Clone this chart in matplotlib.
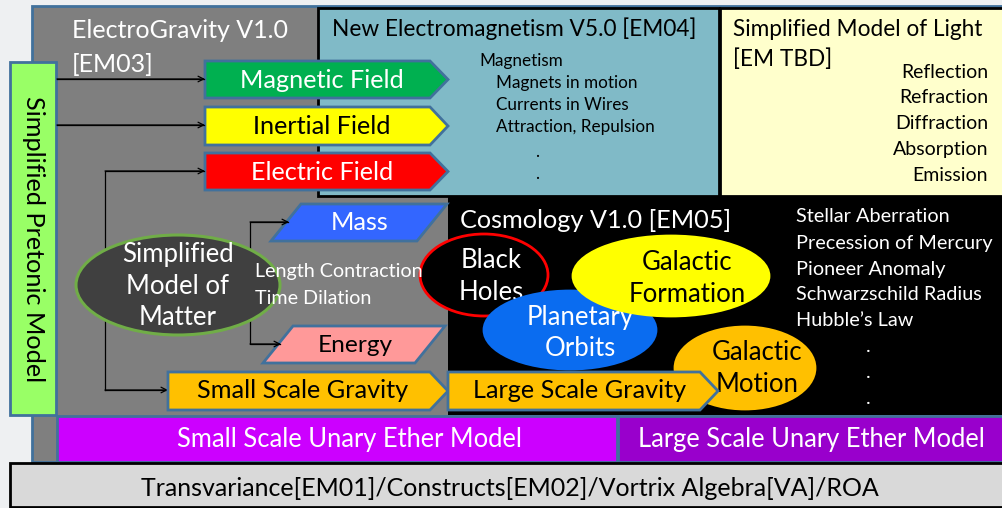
import matplotlib
matplotlib.use("Agg")
import matplotlib.pyplot as plt
from matplotlib.patches import Rectangle, Polygon, Ellipse

plt.rcParams['font.family'] = ['Lato', 'DejaVu Sans']

# --- diagram content ---
field_labels = ["Magnetic Field", "Inertial Field", "Electric Field"]
field_colors = ["#00b050", "#ffff00", "#ff0000"]
field_text_colors = ["white", "black", "white"]

em_items = ["Magnetism", "Magnets in motion", "Currents in Wires", "Attraction, Repulsion", ".", "."]
light_items = ["Reflection", "Refraction", "Diffraction", "Absorption", "Emission"]
cosmo_items = ["Stellar Aberration", "Precession of Mercury", "Pioneer Anomaly",
               "Schwarzschild Radius", "Hubble\u2019s Law", ".", ".", "."]

cosmo_bubbles = ["Black\nHoles", "Planetary\nOrbits", "Galactic\nFormation", "Galactic\nMotion"]
bubble_colors = ["black", "#0a6cf0", "#ffff00", "#ffc000"]
bubble_edges = ["#ff0000", "#0a6cf0", "#ffff00", "#ffc000"]
bubble_text = ["white", "white", "black", "black"]

BORDER = "#41719c"
BIG = 18.2

fig = plt.figure(figsize=(10.03, 5.08), dpi=100)
ax = fig.add_axes([0, 0, 1, 1])
ax.set_xlim(0, 1003)
ax.set_ylim(508, 0)
ax.axis("off")
fig.patch.set_facecolor("#eef0f2")


def rect(x0, y0, x1, y1, fc, ec=BORDER, lw=2, z=1):
    ax.add_patch(Rectangle((x0, y0), x1 - x0, y1 - y0, facecolor=fc, edgecolor=ec, lw=lw, zorder=z))


def pentagon(x0, x1, y0, y1, fc, tip=18, z=3):
    ym = (y0 + y1) / 2
    pts = [(x0, y0), (x1 - tip, y0), (x1, ym), (x1 - tip, y1), (x0, y1)]
    ax.add_patch(Polygon(pts, closed=True, facecolor=fc, edgecolor=BORDER, lw=2, zorder=z))


def parallelogram(xl, xr, y0, y1, fc, skew=30, z=3):
    pts = [(xl + skew, y0), (xr, y0), (xr - skew, y1), (xl, y1)]
    ax.add_patch(Polygon(pts, closed=True, facecolor=fc, edgecolor=BORDER, lw=2, zorder=z))


def arrow(path, z=4):
    xs = [p[0] for p in path]
    ys = [p[1] for p in path]
    ax.plot(xs[:-1] + [xs[-1] - 1], ys, color="black", lw=0.9, zorder=z)
    ax.annotate("", xy=path[-1], xytext=path[-2],
                arrowprops=dict(arrowstyle="->", color="black", lw=0.9, shrinkA=0, shrinkB=0), zorder=z)


# background boxes
rect(32, 6, 1003, 462, "#7f7f7f", z=1)
rect(318, 8, 719, 196, "#80bac7", ec="black", z=2)
rect(720, 8, 1003, 196, "#ffffcc", ec="black", z=2)
rect(448, 197, 1003, 415, "black", ec="black", lw=0, z=2)
rect(57, 416, 617, 462, "#cc00ff", ec=BORDER, z=2)
rect(618, 416, 1003, 462, "#9900cc", ec=BORDER, z=2)
rect(10, 463, 1003, 507, "#d9d9d9", ec="black", z=2)
rect(10, 62, 56, 415, "#99ff66", z=3)

ax.text(33, 239, "Simplified Pretonic Model", rotation=-90, ha="center", va="center",
        fontsize=18.2, color="black", zorder=5)

# ElectroGravity title
ax.text(72, 31, "ElectroGravity V1.0", color="white", fontsize=18, va="center", zorder=5)
ax.text(72, 65, "[EM03]", color="white", fontsize=18, va="center", zorder=5)

# New Electromagnetism box
ax.text(332, 29, "New Electromagnetism V5.0 [EM04]", color="black", fontsize=16.3, va="center", zorder=5)
em_x = [479, 496, 496, 496, 535, 535]
em_y = [61, 83, 105, 127, 152, 174]
for s, xx, yy in zip(em_items, em_x, em_y):
    ax.text(xx, yy, s, color="black", fontsize=12.3, va="center", zorder=5)

# Light box
ax.text(733, 30, "Simplified Model of Light", color="black", fontsize=16.3, va="center", zorder=5)
ax.text(733, 59, "[EM TBD]", color="black", fontsize=16.3, va="center", zorder=5)
for i, s in enumerate(light_items):
    ax.text(988, 72 + i * 25.8, s, color="black", fontsize=14, va="center", ha="right", zorder=5)

# field arrows
field_y = [(61, 98), (107, 145), (153, 190)]
for lab, fc, tc, (y0, y1) in zip(field_labels, field_colors, field_text_colors, field_y):
    pentagon(205, 448, y0, y1, fc)
    ax.text(322, (y0 + y1) / 2 + 1, lab, color=tc, fontsize=BIG, ha="center", va="center", zorder=5)

# connectors
arrow([(57, 79), (205, 79)])
arrow([(57, 125), (205, 125)])
arrow([(105, 390), (105, 171), (205, 171)])
arrow([(105, 390), (168, 390)])
arrow([(250, 285), (250, 222), (289, 222)])
arrow([(250, 285), (250, 344), (281, 344)])

# mass / energy
parallelogram(271, 447, 204, 241, "#3366ff")
ax.text(360, 223, "Mass", color="white", fontsize=BIG, ha="center", va="center", zorder=5)
parallelogram(263, 445, 326, 363, "#ff9999")
ax.text(355, 345, "Energy", color="black", fontsize=17.6, ha="center", va="center", zorder=5)

# matter ellipse
ax.add_patch(Ellipse((178, 285), 204, 100, facecolor="#404040", edgecolor="#70ad47", lw=2.2, zorder=5))
ax.text(178, 286, "Simplified\nModel of\nMatter", color="white", fontsize=18.5, ha="center", va="center",
        linespacing=1.32, zorder=6)
ax.text(255, 272, "Length Contraction", color="white", fontsize=14.2, va="center", zorder=6)
ax.text(255, 298, "Time Dilation", color="white", fontsize=14.2, va="center", zorder=6)

# gravity
pentagon(168, 448, 372, 410, "#ffc000", z=7)
ax.text(303, 391, "Small Scale Gravity", color="black", fontsize=BIG, ha="center", va="center", zorder=8)

# cosmology
ax.text(460, 220, "Cosmology V1.0 [EM05]", color="white", fontsize=18.2, va="center", zorder=5)
bubble_xy = [(484, 275), (570, 330), (671, 276), (745, 368)]
bubble_wh = [(128, 82), (172, 78), (196, 80), (140, 82)]
bubble_txt_xy = [(491, 277), (580, 333), (687, 278), (757, 369)]
for lab, fc, ec, tc, xy, wh, txy, z in zip(cosmo_bubbles, bubble_colors, bubble_edges, bubble_text,
                                          bubble_xy, bubble_wh, bubble_txt_xy, [5, 7, 9, 5]):
    ax.add_patch(Ellipse(xy, wh[0], wh[1], facecolor=fc, edgecolor=ec, lw=2, zorder=z))
    ax.text(txy[0], txy[1], lab, color=tc, fontsize=18.5, ha="center", va="center",
            linespacing=1.35, zorder=z + 1)

pentagon(448, 718, 372, 410, "#ffc000", z=11)
ax.text(580, 391, "Large Scale Gravity", color="black", fontsize=BIG, ha="center", va="center", zorder=12)

for i, s in enumerate(cosmo_items):
    xx = 796 if i < 5 else 866
    ax.text(xx, 217 + i * 26, s, color="white", fontsize=14.3, va="center", zorder=5)

# ether models
ax.text(350, 440, "Small Scale Unary Ether Model", color="white", fontsize=18.4, ha="center", va="center", zorder=5)
ax.text(811, 440, "Large Scale Unary Ether Model", color="white", fontsize=18.4, ha="center", va="center", zorder=5)
ax.text(510, 488, "Transvariance[EM01]/Constructs[EM02]/Vortrix Algebra[VA]/ROA", color="black",
        fontsize=18, ha="center", va="center", zorder=5)

fig.savefig("out.png", dpi=100, facecolor=fig.get_facecolor())
